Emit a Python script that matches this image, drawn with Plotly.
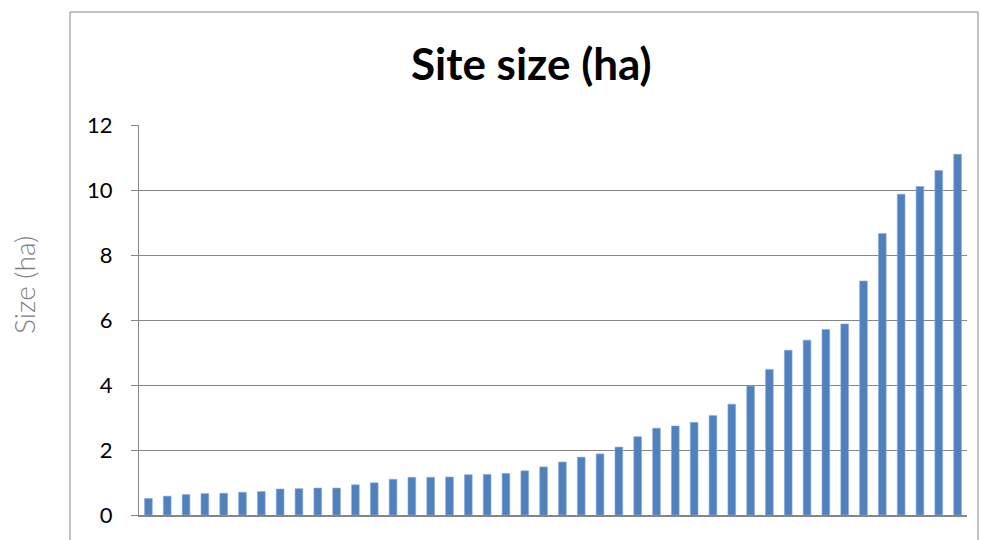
import plotly.graph_objects as go

# Site areas in hectares, sorted smallest to largest
sites = [f"Site {i}" for i in range(1, 45)]
size_ha = [
    0.51, 0.58, 0.63, 0.66, 0.67, 0.70, 0.72, 0.80, 0.81, 0.83,
    0.83, 0.93, 0.99, 1.10, 1.16, 1.16, 1.17, 1.24, 1.25, 1.28,
    1.36, 1.48, 1.63, 1.78, 1.88, 2.09, 2.41, 2.67, 2.74, 2.85,
    3.06, 3.41, 3.97, 4.48, 5.07, 5.38, 5.71, 5.88, 7.20, 8.66,
    9.87, 10.11, 10.60, 11.10,
]
y_ticks = [0, 2, 4, 6, 8, 10, 12]

W, H = 981, 540
L, R, T, B = 139, 14, 125, 25
pw, ph = W - L - R, H - T - B

def px_x(x):
    return (x - L) / pw

def px_y(y):
    return (H - B - y) / ph

grey = "#868686"
font = "Lato, 'Liberation Sans', sans-serif"

fig = go.Figure(
    go.Bar(
        x=sites,
        y=size_ha,
        marker=dict(color="#4F81BD", line=dict(color="#8EAADB", width=0.6)),
        hoverinfo="x+y",
    )
)

fig.update_layout(
    width=W,
    height=H,
    margin=dict(l=L, r=R, t=T, b=B, pad=0),
    paper_bgcolor="white",
    plot_bgcolor="white",
    showlegend=False,
    bargap=0.59,
    font=dict(family=font, color="black"),
    xaxis=dict(
        type="category",
        showticklabels=False,
        showgrid=False,
        showline=True,
        linecolor=grey,
        linewidth=1.5,
        ticks="",
        zeroline=False,
    ),
    yaxis=dict(
        range=[0, 12],
        tickvals=y_ticks,
        showgrid=True,
        gridcolor=grey,
        gridwidth=1.2,
        showline=True,
        linecolor=grey,
        linewidth=1.2,
        ticks="outside",
        ticklen=7,
        tickcolor=grey,
        tickfont=dict(size=22, family=font, color="black"),
        ticklabelstandoff=14,
        zeroline=False,
    ),
    shapes=[
        # chart-area frame
        dict(
            type="rect", xref="paper", yref="paper",
            x0=px_x(70), x1=px_x(978), y0=px_y(560), y1=px_y(12),
            line=dict(color=grey, width=1), fillcolor="rgba(0,0,0,0)",
            layer="below",
        ),
    ],
    annotations=[
        dict(
            text="<b>Site size (ha)</b>", xref="paper", yref="paper",
            x=px_x(531), y=px_y(63), xanchor="center", yanchor="middle",
            showarrow=False, font=dict(size=44, family=font, color="black"),
        ),
        dict(
            text="Size (ha)", xref="paper", yref="paper",
            x=px_x(24), y=px_y(285), xanchor="center", yanchor="middle",
            textangle=-90, showarrow=False,
            font=dict(size=28, family=font, color="#7F7F7F", weight=300),
        ),
    ],
)

fig.write_html("out.html")
